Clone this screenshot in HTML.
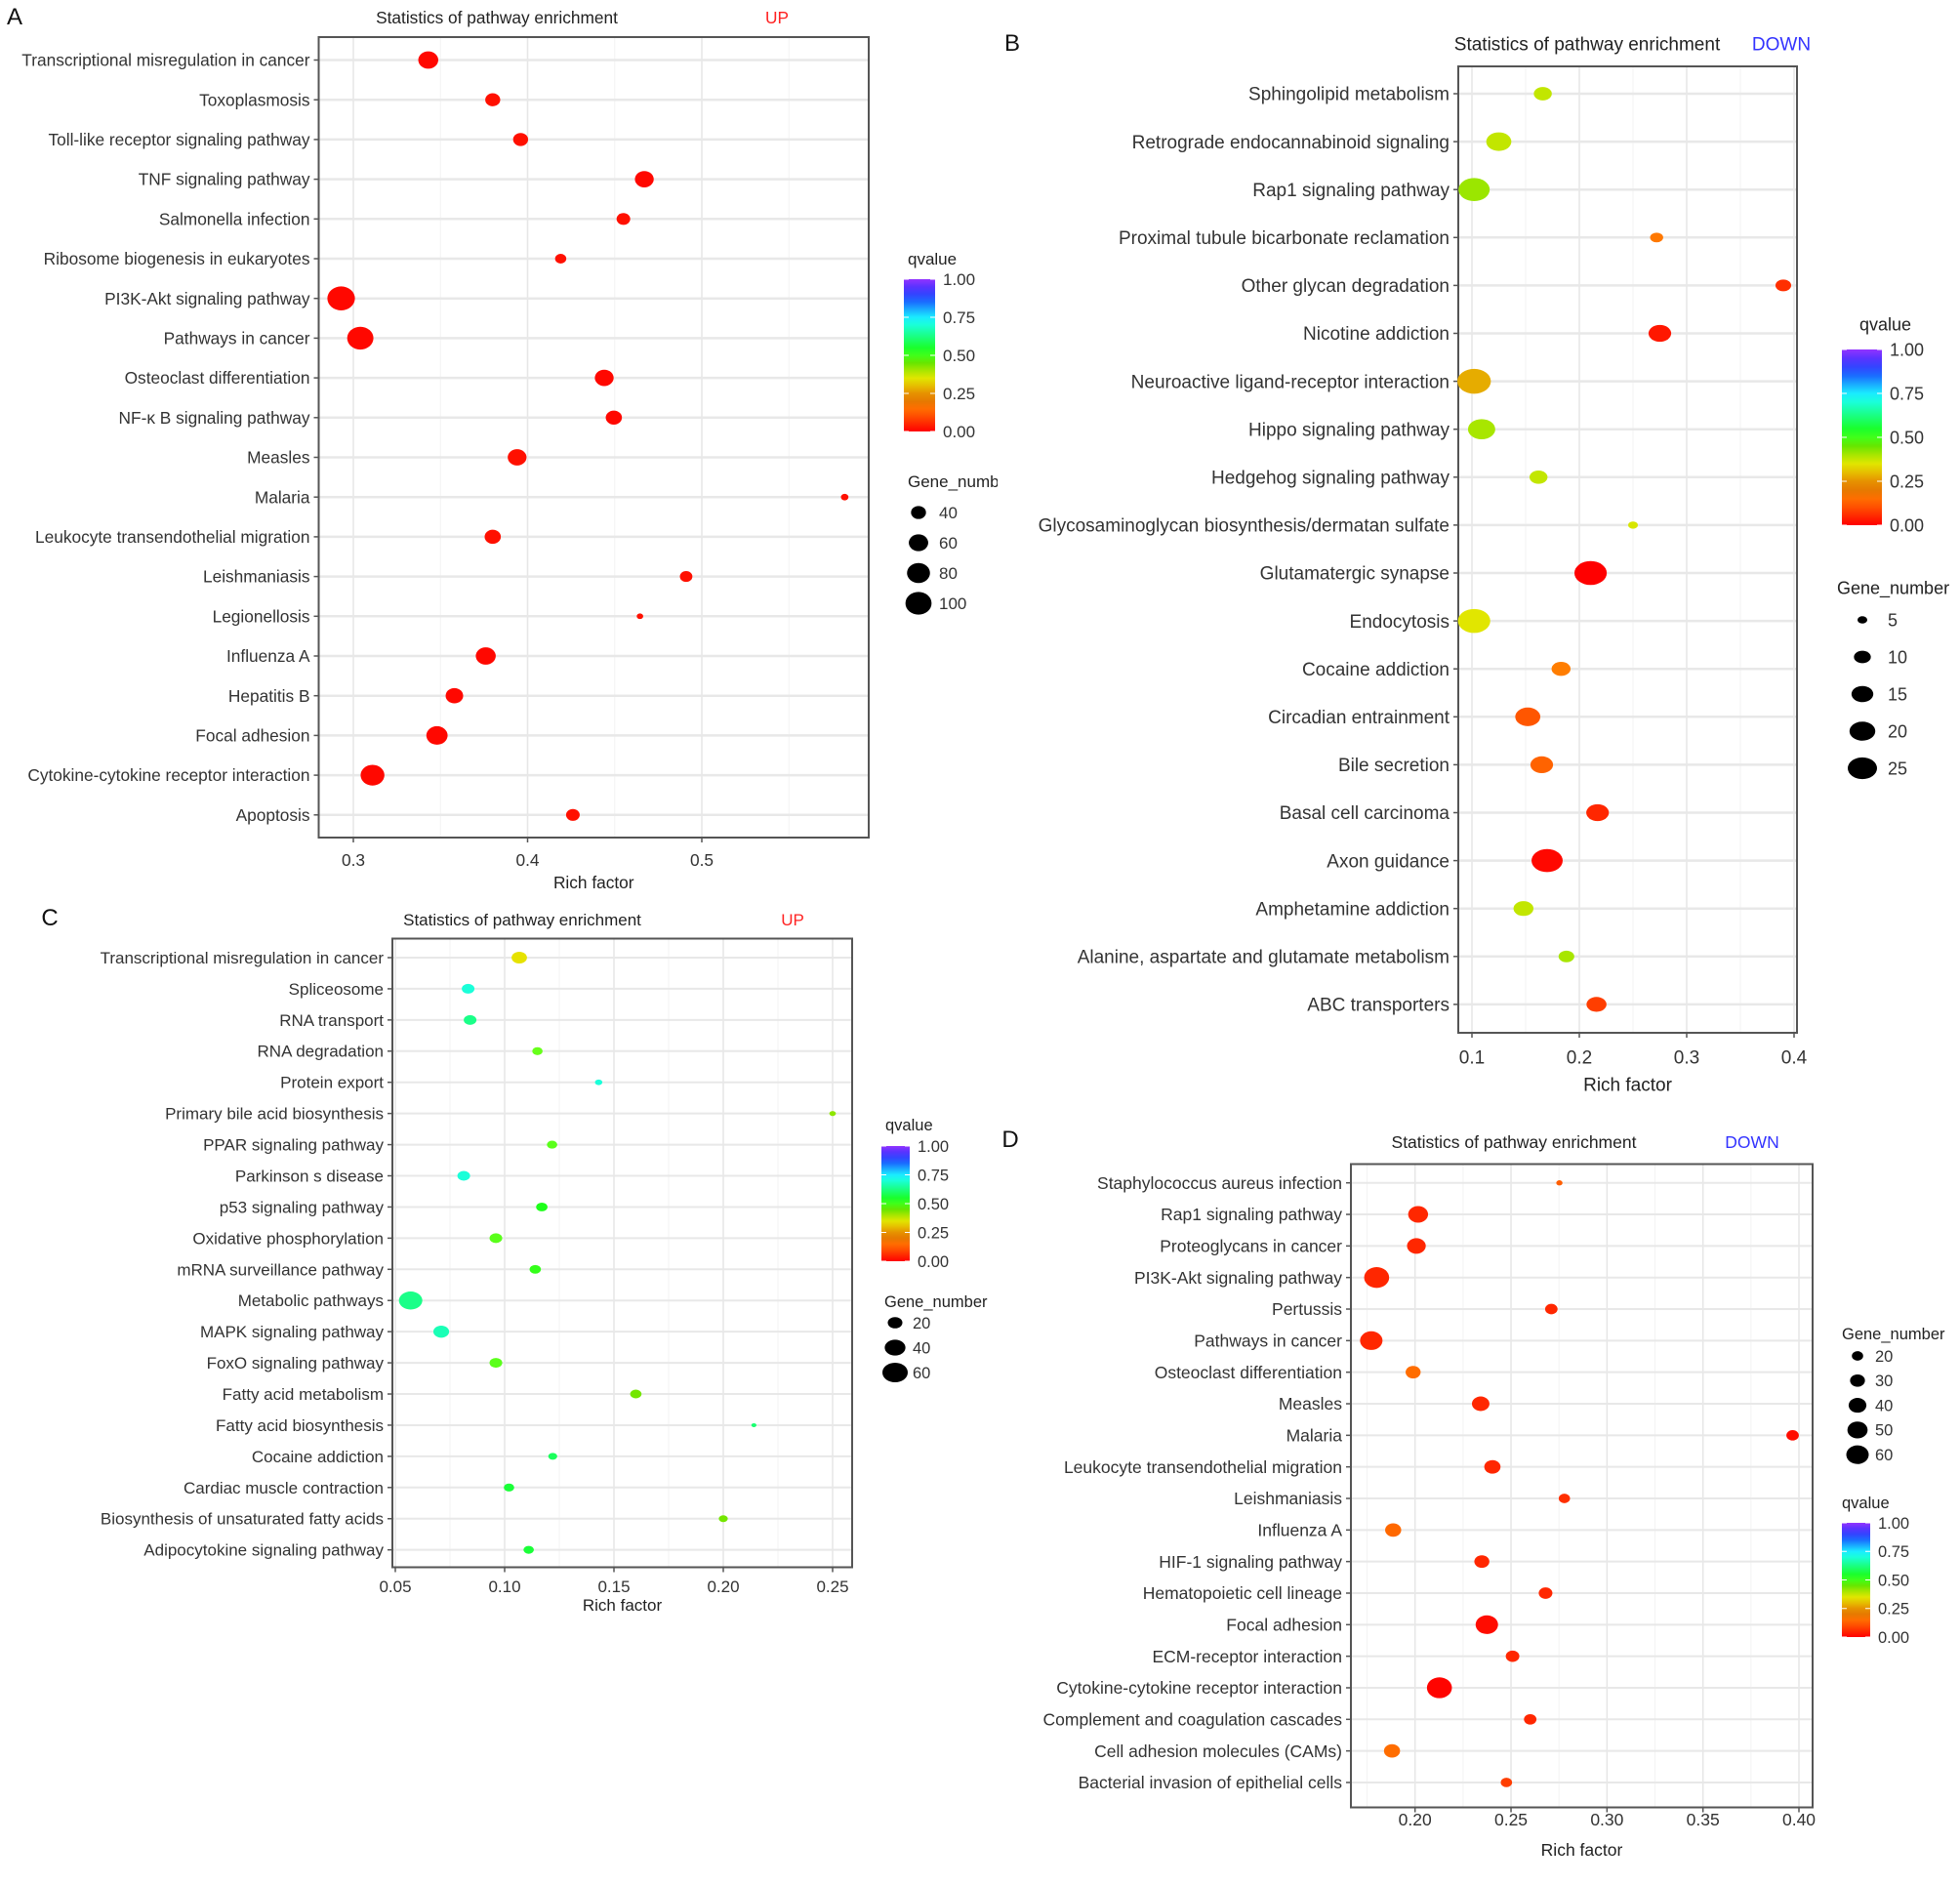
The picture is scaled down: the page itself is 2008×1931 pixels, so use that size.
<!DOCTYPE html>
<html><head><meta charset="utf-8"><style>
body{margin:0;background:#fff}
svg{display:block;font-family:"Liberation Sans",Arial,sans-serif}
</style></head><body>
<svg id="fig" width="2008" height="1931" viewBox="0 0 2008 1931" xmlns="http://www.w3.org/2000/svg">
<defs><clipPath id="clipA"><rect x="0" y="0" width="1022" height="900"/></clipPath></defs>
</svg>
<script>
// ---------- Panel A data ----------
const aLabels=["Transcriptional misregulation in cancer","Toxoplasmosis","Toll-like receptor signaling pathway","TNF signaling pathway","Salmonella infection","Ribosome biogenesis in eukaryotes","PI3K-Akt signaling pathway","Pathways in cancer","Osteoclast differentiation","NF-\u03ba B signaling pathway","Measles","Malaria","Leukocyte transendothelial migration","Leishmaniasis","Legionellosis","Influenza A","Hepatitis B","Focal adhesion","Cytokine-cytokine receptor interaction","Apoptosis"];
const aRich=[0.343,0.380,0.396,0.467,0.455,0.419,0.293,0.304,0.444,0.4495,0.394,0.582,0.380,0.491,0.4645,0.376,0.358,0.348,0.311,0.426];
const aGenes=[63,40,40,57,35,27,110,101,57,45,57,18,45,31,16,63,51,70,85,35];
const aQ=[0.01,0.02,0.02,0.01,0.02,0.02,0.01,0.01,0.01,0.01,0.02,0.02,0.02,0.02,0.02,0.01,0.01,0.01,0.01,0.02];
const aTicks=[0.3,0.4,0.5];
const aSizeBreaks=[40,60,80,100];
// ---------- Panel B data ----------
const bLabels=["Sphingolipid metabolism","Retrograde endocannabinoid signaling","Rap1 signaling pathway","Proximal tubule bicarbonate reclamation","Other glycan degradation","Nicotine addiction","Neuroactive ligand-receptor interaction","Hippo signaling pathway","Hedgehog signaling pathway","Glycosaminoglycan biosynthesis/dermatan sulfate","Glutamatergic synapse","Endocytosis","Cocaine addiction","Circadian entrainment","Bile secretion","Basal cell carcinoma","Axon guidance","Amphetamine addiction","Alanine, aspartate and glutamate metabolism","ABC transporters"];
const bRich=[0.166,0.125,0.102,0.272,0.390,0.275,0.102,0.109,0.162,0.250,0.2105,0.102,0.183,0.152,0.165,0.217,0.170,0.148,0.188,0.216];
const bGenes=[11,19,28,7,9,16,32,22,11,5,30,30,12,19,16,16,28,13,9,13];
const bQ=[0.38,0.38,0.41,0.17,0.06,0.03,0.28,0.40,0.38,0.36,0.0,0.35,0.18,0.11,0.13,0.05,0.01,0.38,0.40,0.08];
const bTicks=[0.1,0.2,0.3,0.4];
const bSizeBreaks=[5,10,15,20,25];
// ---------- Panel C data ----------
const cLabels=["Transcriptional misregulation in cancer","Spliceosome","RNA transport","RNA degradation","Protein export","Primary bile acid biosynthesis","PPAR signaling pathway","Parkinson s disease","p53 signaling pathway","Oxidative phosphorylation","mRNA surveillance pathway","Metabolic pathways","MAPK signaling pathway","FoxO signaling pathway","Fatty acid metabolism","Fatty acid biosynthesis","Cocaine addiction","Cardiac muscle contraction","Biosynthesis of unsaturated fatty acids","Adipocytokine signaling pathway"];
const cRich=[0.1067,0.0833,0.0842,0.115,0.143,0.250,0.1217,0.0813,0.117,0.096,0.114,0.057,0.071,0.096,0.160,0.214,0.122,0.102,0.200,0.111];
const cGenes=[22,15,15,10,5,4,10,15,12,15,12,51,23,15,12,2.4,7.5,10,7.5,10];
const cQ=[0.34,0.70,0.63,0.47,0.70,0.42,0.48,0.70,0.53,0.48,0.51,0.63,0.67,0.48,0.44,0.61,0.59,0.56,0.44,0.56];
const cTicks=[0.05,0.10,0.15,0.20,0.25];
const cSizeBreaks=[20,40,60];
// ---------- Panel D data ----------
const dLabels=["Staphylococcus aureus infection","Rap1 signaling pathway","Proteoglycans in cancer","PI3K-Akt signaling pathway","Pertussis","Pathways in cancer","Osteoclast differentiation","Measles","Malaria","Leukocyte transendothelial migration","Leishmaniasis","Influenza A","HIF-1 signaling pathway","Hematopoietic cell lineage","Focal adhesion","ECM-receptor interaction","Cytokine-cytokine receptor interaction","Complement and coagulation cascades","Cell adhesion molecules (CAMs)","Bacterial invasion of epithelial cells"];
const dRich=[0.2752,0.2016,0.2007,0.180,0.271,0.1772,0.199,0.2342,0.3967,0.2403,0.2778,0.1886,0.2348,0.268,0.2374,0.2508,0.2127,0.260,0.188,0.2476];
const dGenes=[10.5,48.6,43.8,73,23,60,30.4,39,23,34.4,20,34,30.4,26.3,60,26,73,23,34,20];
const dQ=[0.12,0.05,0.05,0.05,0.05,0.05,0.15,0.05,0.015,0.05,0.06,0.14,0.05,0.05,0.015,0.05,0.005,0.05,0.15,0.08];
const dTicks=[0.20,0.25,0.30,0.35,0.40];
const dSizeBreaks=[20,30,40,50,60];
const qBreaks=[1.00,0.75,0.50,0.25,0.00];

const NS="http://www.w3.org/2000/svg";
const svg=document.getElementById('fig');
function mk(tag,attrs,parent){const e=document.createElementNS(NS,tag);for(const k in attrs)e.setAttribute(k,attrs[k]);(parent||svg).appendChild(e);return e;}
function txt(s,attrs,parent){const e=mk('text',attrs,parent);e.textContent=s;return e;}

function qColor(q){
  const st=[[0,0],[0.12,22],[0.25,38],[0.37,66],[0.5,110],[0.75,185],[1,268]];
  let h=0;
  for(let i=0;i<st.length-1;i++){if(q>=st[i][0]&&q<=st[i+1][0]){const t=(q-st[i][0])/(st[i+1][0]-st[i][0]);h=st[i][1]+t*(st[i+1][1]-st[i][1]);break;}}
  let l=50;
  if(h>30&&h<95)l=45;
  if(h>=95)l=55;
  if(h>220)l=60;
  return 'hsl('+h.toFixed(1)+',100%,'+l+'%)';
}
const defs=svg.querySelector('defs');
const lg=mk('linearGradient',{id:'qgrad',x1:0,y1:1,x2:0,y2:0},defs);
for(let i=0;i<=20;i++){mk('stop',{offset:(i/20),'stop-color':qColor(i/20)},lg);}

function drawPanel(cfg,labels,rich,genes,q,ticks,sizeBreaks){
  const g=mk('g',{});
  
  
  const xs=v=>cfg.x0+(v-cfg.v0)*cfg.slope;
  const ys=i=>cfg.rowTop+i*cfg.rowGap;
  const F=cfg.font;
  const step=ticks[1]-ticks[0];
  const minors=[];for(let v=ticks[0]-step/2;v<=ticks[ticks.length-1]+step/2+1e-9;v+=step)minors.push(v);
  minors.forEach(v=>{const x=xs(v);if(x>cfg.L&&x<cfg.R){const l=mk('line',{x1:x,x2:x,y1:cfg.T,y2:cfg.B,stroke:'#f3f3f3','stroke-width':1},g);}});
  ticks.forEach(v=>{const x=xs(v);const l=mk('line',{x1:x,x2:x,y1:cfg.T,y2:cfg.B,stroke:'#e6e6e6','stroke-width':1.5},g);});
  labels.forEach((s,i)=>{const y=ys(i);const l=mk('line',{x1:cfg.L,x2:cfg.R,y1:y,y2:y,stroke:'#e8e8e8','stroke-width':cfg.rowLine||2.5},g);});
  const fr=mk('rect',{x:cfg.L,y:cfg.T,width:cfg.R-cfg.L,height:cfg.B-cfg.T,fill:'none',stroke:'#555','stroke-width':2},g);
  
  labels.forEach((s,i)=>{const y=ys(i);
    mk('line',{x1:cfg.L-5,x2:cfg.L,y1:y,y2:y,stroke:'#555','stroke-width':1.5},g);
    const t=txt(s,{x:cfg.L-9,y:y+F*0.35,'text-anchor':'end','font-size':F,fill:'#333'},g);
    });
  ticks.forEach(v=>{const x=xs(v);
    mk('line',{x1:x,x2:x,y1:cfg.B,y2:cfg.B+5,stroke:'#555','stroke-width':1.5},g);
    const t=txt(cfg.fmt(v),{x:x,y:cfg.tickY+F*0.35,'text-anchor':'middle','font-size':F,fill:'#333'},g);
    });
  const xt=txt('Rich factor',{x:(cfg.L+cfg.R)/2,y:cfg.axY+F*0.35,'text-anchor':'middle','font-size':F,fill:'#222'},g);
  
  const tt=txt('Statistics of pathway enrichment',{x:cfg.titleX,y:cfg.titleY+F*0.35,'text-anchor':'middle','font-size':F,fill:'#222'},g);
  
  const ud=txt(cfg.dir,{x:cfg.dirX,y:cfg.titleY+F*0.35,'text-anchor':'middle','font-size':F,fill:cfg.dir==='UP'?'#f22':'#33f'},g);
  
  const pl=txt(cfg.letter,{x:cfg.letterX,y:cfg.letterY+10,'text-anchor':'middle','font-size':24,fill:'#111'},g);
  
  rich.forEach((v,i)=>{const rx=cfg.rf(genes[i]);
    const e=mk('ellipse',{cx:xs(v),cy:ys(i),rx:rx,ry:rx/cfg.aspect,fill:qColor(q[i])},g);
    });
  const lgG=mk('g',cfg.clip?{'clip-path':'url(#'+cfg.clip+')'}:{},g);
  
  const LF=cfg.legFont;
  const qt=txt('qvalue',{x:cfg.qx,y:cfg.qTitleY+LF*0.35,'font-size':LF,fill:'#222'},lgG);
  
  const cb=mk('rect',{x:cfg.cbX,y:cfg.cbT,width:cfg.cbW,height:cfg.cbB-cfg.cbT,fill:'url(#qgrad)'},lgG);
  
  qBreaks.forEach(b=>{const y=cfg.cbB-(cfg.cbB-cfg.cbT)*b;
    mk('line',{x1:cfg.cbX,x2:cfg.cbX+5,y1:y,y2:y,stroke:'#fff','stroke-width':1},lgG);
    mk('line',{x1:cfg.cbX+cfg.cbW-5,x2:cfg.cbX+cfg.cbW,y1:y,y2:y,stroke:'#fff','stroke-width':1},lgG);
    const t=txt(b.toFixed(2),{x:cfg.cbX+cfg.cbW+8,y:y+LF*0.35,'font-size':LF,fill:'#333'},lgG);
    });
  const gt=txt('Gene_number',{x:cfg.gx,y:cfg.gTitleY+LF*0.35,'font-size':LF,fill:'#222'},lgG);
  
  sizeBreaks.forEach((b,i)=>{const y=cfg.gY0+i*cfg.gGap;const rx=cfg.rf(b);
    const e=mk('ellipse',{cx:cfg.gcx,cy:y,rx:rx,ry:rx/cfg.aspect,fill:'#000'},lgG);
    
    const t=txt(String(b),{x:cfg.glx,y:y+LF*0.35,'font-size':LF,fill:'#333'},lgG);
    });
}
const f1=v=>v.toFixed(1), f2=v=>v.toFixed(2);
drawPanel({name:'panel-a',letter:'A',letterX:15,letterY:15,dir:'UP',font:17.3,legFont:17,
  L:326.5,R:890,T:38,B:858,x0:362,v0:0.3,slope:1785,rowTop:61.5,rowGap:40.7,tickY:881,axY:904,
  titleX:509,titleY:18,dirX:796,fmt:f1,aspect:1.15,rf:n=>Math.sqrt(Math.max(4,2*n-21)),
  qx:930,qTitleY:265,cbX:926,cbW:32,cbT:286,cbB:442,gx:930,gTitleY:493,gcx:941,gY0:525,gGap:31,glx:962,clip:'clipA'},
  aLabels,aRich,aGenes,aQ,aTicks,aSizeBreaks);
drawPanel({name:'panel-b',letter:'B',letterX:1037,letterY:42,dir:'DOWN',font:19,legFont:18,
  L:1494,R:1841,T:68,B:1058,x0:1508,v0:0.1,slope:1100,rowTop:96,rowGap:49.1,tickY:1083,axY:1111,
  titleX:1626,titleY:45,dirX:1825,fmt:f1,aspect:1.35,rf:n=>Math.sqrt(Math.max(6,10*n-25)),
  qx:1905,qTitleY:332,cbX:1887,cbW:41,cbT:358,cbB:538,gx:1882,gTitleY:602,gcx:1908,gY0:635,gGap:38,glx:1934},
  bLabels,bRich,bGenes,bQ,bTicks,bSizeBreaks);
drawPanel({name:'panel-c',letter:'C',letterX:51,letterY:938,dir:'UP',font:17,legFont:16.5,
  L:402,R:873,T:961.5,B:1605.5,x0:405,v0:0.05,slope:2240,rowTop:981,rowGap:31.93,tickY:1625,axY:1644,
  titleX:535,titleY:942,dirX:812,fmt:f2,aspect:1.3,rf:n=>1.68*Math.sqrt(n),rowLine:2,
  qx:907,qTitleY:1152,cbX:903,cbW:29,cbT:1174,cbB:1292,gx:906,gTitleY:1333,gcx:917,gY0:1355,gGap:25.5,glx:935},
  cLabels,cRich,cGenes,cQ,cTicks,cSizeBreaks);
drawPanel({name:'panel-d',letter:'D',letterX:1035,letterY:1165,dir:'DOWN',font:17.5,legFont:16.5,
  L:1384,R:1857,T:1192.5,B:1851.5,x0:1449.7,v0:0.2,slope:1966.5,rowTop:1211.7,rowGap:32.33,tickY:1864,axY:1895,
  titleX:1551,titleY:1170,dirX:1795,fmt:f2,aspect:1.2,rf:n=>Math.sqrt(Math.max(4,2.46*n-15.6)),rowLine:2,
  qx:1887,qTitleY:1539,cbX:1887,cbW:29,cbT:1560,cbB:1677,gx:1887,gTitleY:1366,gcx:1903,gY0:1389,gGap:25.3,glx:1921},
  dLabels,dRich,dGenes,dQ,dTicks,dSizeBreaks);
</script>
</body></html>
